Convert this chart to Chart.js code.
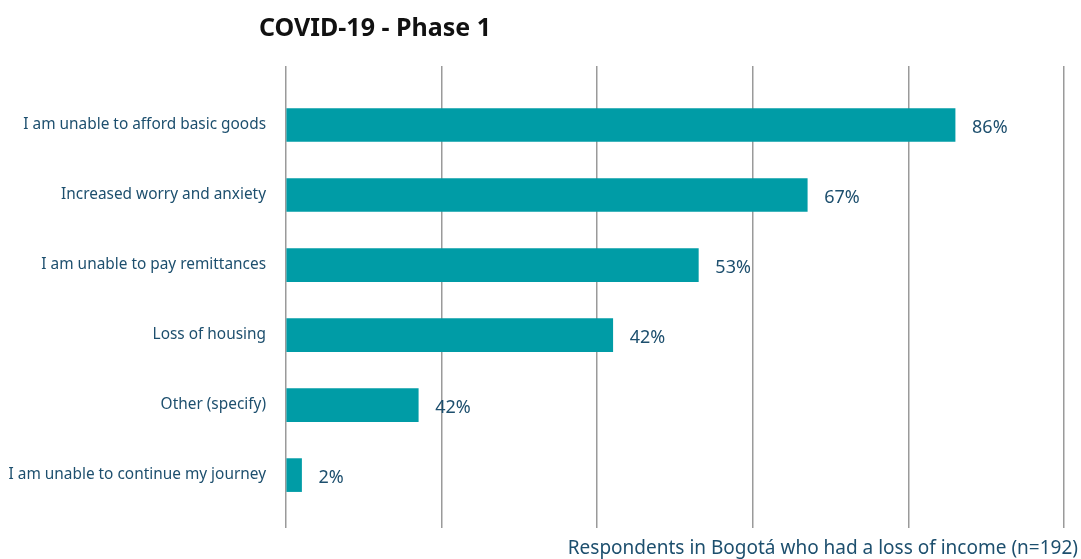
<!DOCTYPE html>
<html>
<head>
<meta charset="utf-8">
<script src="https://cdn.jsdelivr.net/npm/chart.js@4.4.0/dist/chart.umd.min.js"></script>
<style>
  body { margin: 0; background: #fff; }
  #wrap { position: relative; width: 1081px; height: 559px; }
  #title { position: absolute; left: 259px; top: 9px; line-height: 30px;
           font: bold 25px "Noto Sans", sans-serif; color: #111; }
</style>
</head>
<body>
<div id="wrap">
  <div id="title">COVID-19 - Phase 1</div>
  <canvas id="myChart"></canvas>
</div>
<script>
const categories = [
  "I am unable to afford basic goods",
  "Increased worry and anxiety",
  "I am unable to pay remittances",
  "Loss of housing",
  "Other (specify)",
  "I am unable to continue my journey"
];
const values = [86, 67, 53, 42, 17, 2];
const valueLabels = ["86%", "67%", "53%", "42%", "42%", "2%"];

const textColor = "#1d4f6e";

const barLabels = {
  id: "barLabels",
  afterDatasetsDraw(chart) {
    const ctx = chart.ctx;
    const meta = chart.getDatasetMeta(0);
    ctx.save();
    ctx.font = "18px 'Noto Sans', sans-serif";
    ctx.fillStyle = textColor;
    ctx.textBaseline = "middle";
    meta.data.forEach((bar, i) => {
      ctx.fillText(valueLabels[i], bar.x + 17, bar.y + 3);
    });
    ctx.restore();
  }
};

new Chart("myChart", {
  type: "bar",
  data: {
    datasets: [{
      backgroundColor: "#009ca6",
      barThickness: 33,
      data: values.map((v, i) => ({ x: v, y: i }))
    }]
  },
  options: {
    indexAxis: "y",
    responsive: true,
    maintainAspectRatio: false,
    animation: false,
    layout: { padding: { top: 66, right: 3, left: 0, bottom: 0 } },
    plugins: {
      legend: { display: false },
      tooltip: { enabled: false },
      subtitle: {
        display: true,
        position: "bottom",
        align: "end",
        text: "Respondents in Bogotá who had a loss of income (n=192)",
        color: textColor,
        font: { family: "Noto Sans", size: 19, weight: "normal", lineHeight: 1.1 },
        padding: { top: 10, bottom: 0 }
      }
    },
    scales: {
      x: {
        min: 0,
        max: 101.8,
        ticks: { display: false, stepSize: 20, includeBounds: false },
        grid: { color: "#9a9a9a", lineWidth: 1.5, drawTicks: false },
        border: { display: false },
        afterFit: s => { s.height = 0; }
      },
      y: {
        type: "linear",
        reverse: true,
        offset: false,
        min: -0.843,
        max: 5.757,
        afterFit: s => { s.width = 286; },
        ticks: {
          stepSize: 1,
          includeBounds: false,
          padding: 20,
          color: textColor,
          font: { family: "Noto Sans", size: 15.4 },
          callback: v => categories[v] ?? ""
        },
        grid: { display: false, drawTicks: false },
        border: { display: false }
      }
    }
  },
  plugins: [barLabels]
});
</script>
</body>
</html>
